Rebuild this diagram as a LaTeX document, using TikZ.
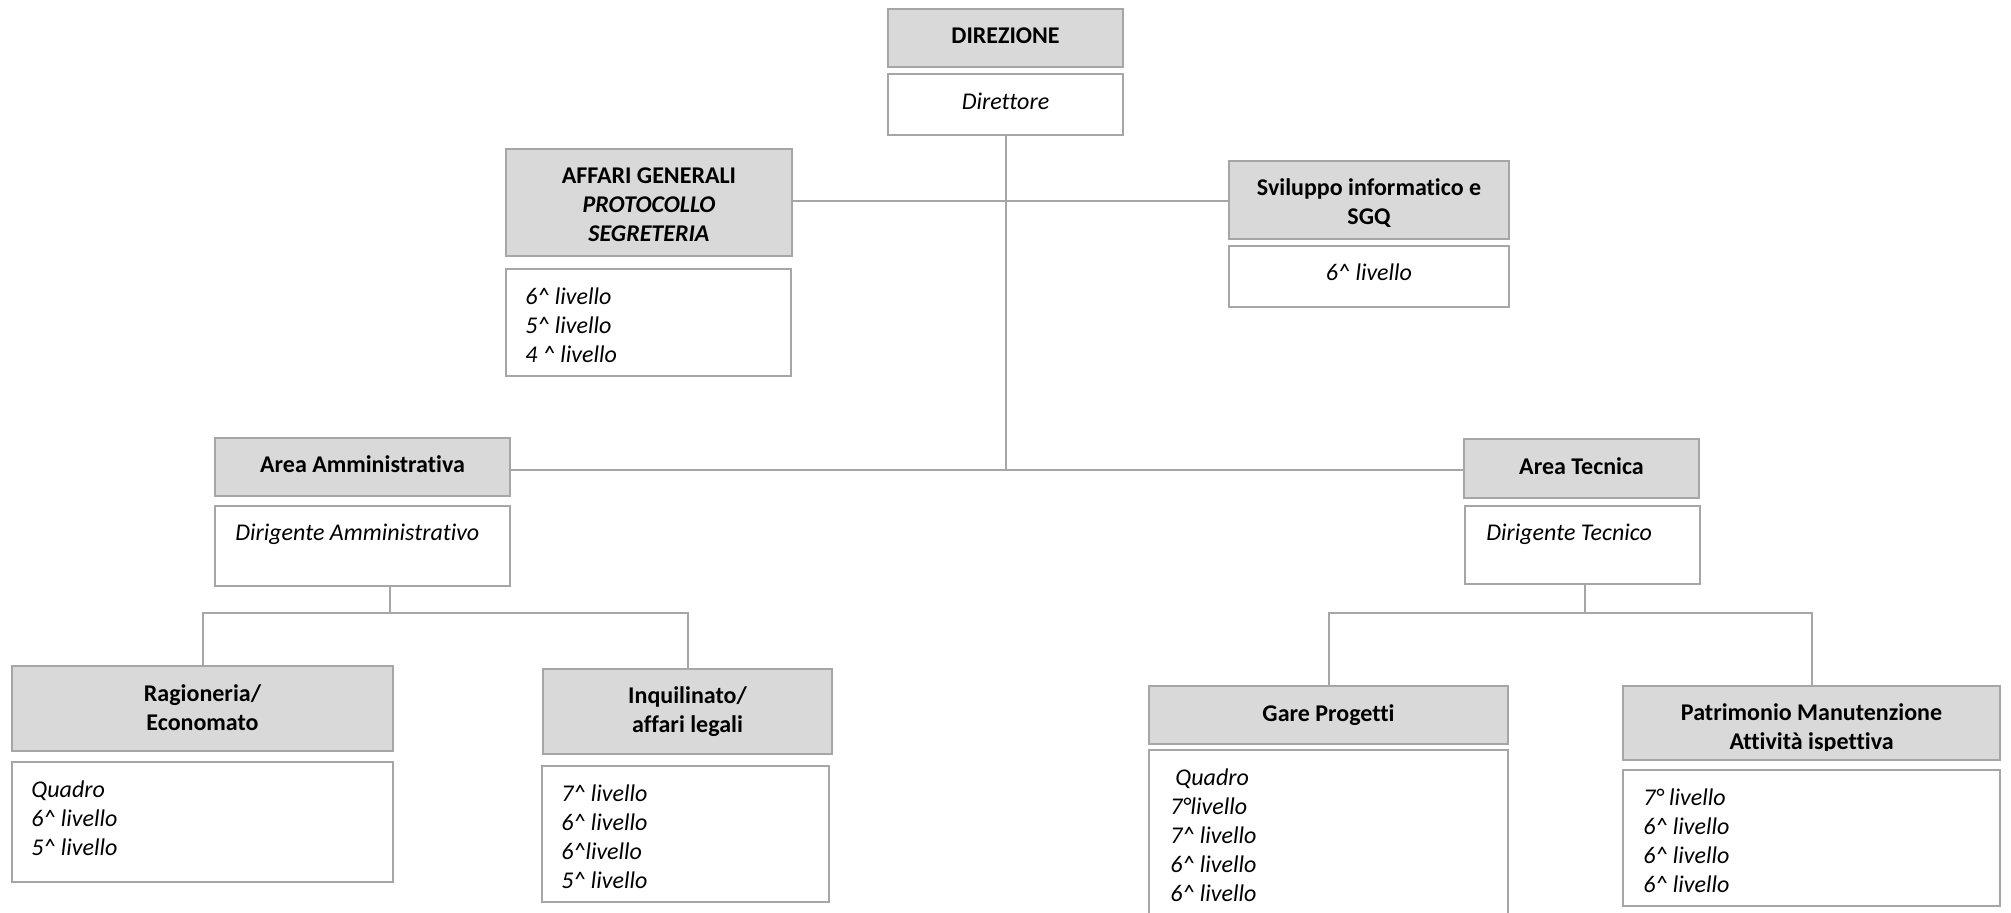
\documentclass[tikz,border=0pt]{standalone}
\usepackage{fontspec}
\setmainfont{Carlito}[Ligatures=NoCommon]
\definecolor{headgray}{HTML}{D9D9D9}
\definecolor{bordergray}{HTML}{A6A6A6}
\definecolor{linegray}{HTML}{A6A6A6}
\newcommand{\orgfont}{\fontsize{12}{14.5}\selectfont}
\newcommand{\lv}{\textasciicircum{}}
\begin{document}
\begin{tikzpicture}[x=0.5pt,y=-0.5pt,
  hdr/.style={draw=bordergray, line width=1pt, fill=headgray, inner sep=0pt},
  subbox/.style={draw=bordergray, line width=1pt, fill=white, inner sep=0pt},
  htxt/.style={inner sep=0pt, align=center, font=\orgfont\bfseries},
  ctxt/.style={inner sep=0pt, align=center, font=\orgfont\itshape},
  txt/.style={anchor=north west, inner sep=0pt, align=left, font=\orgfont\itshape},
  conn/.style={draw=linegray, line width=1pt}]
\useasboundingbox (0,0) rectangle (2011,913);
\fill[white] (0,0) rectangle (2011,913);

% top
\node[hdr, minimum width=117.5pt, minimum height=29pt] (dir) at (1005.5,38) {};
\node[htxt] (dirt) at ([yshift=1pt]dir.center) {DIREZIONE};
\node[subbox, minimum width=117.5pt, minimum height=30.5pt] (dirsub) at (1005.5,104.5) {};
\node[ctxt] (dirsubt) at ([yshift=1.6pt]dirsub.center) {Direttore};

\node[hdr, minimum width=143pt, minimum height=53.5pt] (aff) at (649,202.5) {};
\node[htxt] (afft) at ([yshift=-1.25pt]aff.center) {AFFARI GENERALI\\\textit{PROTOCOLLO}\\\textit{SEGRETERIA}};
\node[subbox, minimum width=142.5pt, minimum height=53.5pt] (affsub) at (648.5,322.5) {};
\node[txt] (affsubt) at ([xshift=10pt,yshift=-7.8pt]affsub.north west) {\strut 6\lv\ livello\\5\lv\ livello\\4 \lv\ livello};

\node[hdr, minimum width=140pt, minimum height=39pt] (svil) at (1369,200) {};
\node[htxt] (svilt) at ([yshift=-1.4pt]svil.center) {Sviluppo informatico e\\SGQ};
\node[subbox, minimum width=140pt, minimum height=30.5pt] (svilsub) at (1369,276.5) {};
\node[ctxt] (svilsubt) at ([yshift=2.2pt]svilsub.center) {6\lv\ livello};

% areas
\node[hdr, minimum width=147.5pt, minimum height=29pt] (aamm) at (362.5,467) {};
\node[htxt] (aammt) at ([yshift=1.6pt]aamm.center) {Area Amministrativa};
\node[subbox, minimum width=147.5pt, minimum height=40pt] (ammsub) at (362.5,546) {};
\node[txt] (ammsubt) at ([xshift=10.5pt,yshift=-7.3pt]ammsub.north west) {\strut Dirigente Amministrativo};

\node[hdr, minimum width=117.5pt, minimum height=29.5pt] (atec) at (1581.5,468.5) {};
\node[htxt] (atect) at ([yshift=1.2pt]atec.center) {Area Tecnica};
\node[subbox, minimum width=117.5pt, minimum height=39pt] (tecsub) at (1582.5,545) {};
\node[txt] (tecsubt) at ([xshift=11pt,yshift=-7.3pt]tecsub.north west) {\strut Dirigente Tecnico};

% offices
\node[hdr, minimum width=190.5pt, minimum height=42.5pt] (rag) at (202.5,708.5) {};
\node[htxt] (ragt) at ([yshift=0.3pt]rag.center) {Ragioneria/\\Economato};
\node[subbox, minimum width=190.5pt, minimum height=60pt] (ragsub) at (202.5,822) {};
\node[txt] (ragsubt) at ([xshift=10pt,yshift=-7.8pt]ragsub.north west) {\strut Quadro\\6\lv\ livello\\5\lv\ livello};

\node[hdr, minimum width=144.5pt, minimum height=42.5pt] (inq) at (687.5,711.5) {};
\node[htxt] (inqt) at ([yshift=0pt]inq.center) {Inquilinato/\\affari legali};
\node[subbox, minimum width=143.5pt, minimum height=68pt] (inqsub) at (685.5,834) {};
\node[txt] (inqsubt) at ([xshift=10pt,yshift=-7.8pt]inqsub.north west) {\strut 7\lv\ livello\\6\lv\ livello\\6\lv livello\\5\lv\ livello};

\node[hdr, minimum width=179.5pt, minimum height=29pt] (gare) at (1328.5,715) {};
\node[htxt] (garet) at ([yshift=0pt]gare.center) {Gare Progetti};
\node[subbox, minimum width=179.5pt, minimum height=95pt] (garesub) at (1328.5,845) {};
\node[txt] (garesubt) at ([xshift=11pt,yshift=-7.8pt]garesub.north west) {\strut\hspace*{2.5pt}Quadro\\7°livello\\7\lv\ livello\\6\lv\ livello\\6\lv\ livello};

\node[hdr, minimum width=188.5pt, minimum height=37pt] (patr) at (1811.5,723) {};
\begin{scope}
  \clip (patr.north west) rectangle (patr.east |- 0,750);
  \node[htxt] (patrt) at ([yshift=-2.5pt]patr.center) {Patrimonio Manutenzione\\Attività ispettiva};
\end{scope}
\node[subbox, minimum width=188.5pt, minimum height=68pt] (patrsub) at (1811.5,838) {};
\node[txt] (patrsubt) at ([xshift=10.5pt,yshift=-7.8pt]patrsub.north west) {\strut 7° livello\\6\lv\ livello\\6\lv\ livello\\6\lv\ livello};

% connectors
\coordinate (j1) at (1005.5,201);
\coordinate (j2) at (1005.5,470);
\draw[conn] (dirsub.south) -- (j2);
\draw[conn] (aff.east |- j1) -- (svil.west |- j1);
\draw[conn] (aamm.east |- j2) -- (atec.west |- j2);
\coordinate (j3) at (389.5,613);
\draw[conn] (ammsub.south -| j3) -- (j3);
\draw[conn] (rag.north) -- (rag.north |- j3) -- (inq.north |- j3) -- (inq.north);
\coordinate (j4) at (1585,613);
\draw[conn] (tecsub.south -| j4) -- (j4);
\draw[conn] (gare.north) -- (gare.north |- j4) -- (patr.north |- j4) -- (patr.north);
\end{tikzpicture}
\end{document}
